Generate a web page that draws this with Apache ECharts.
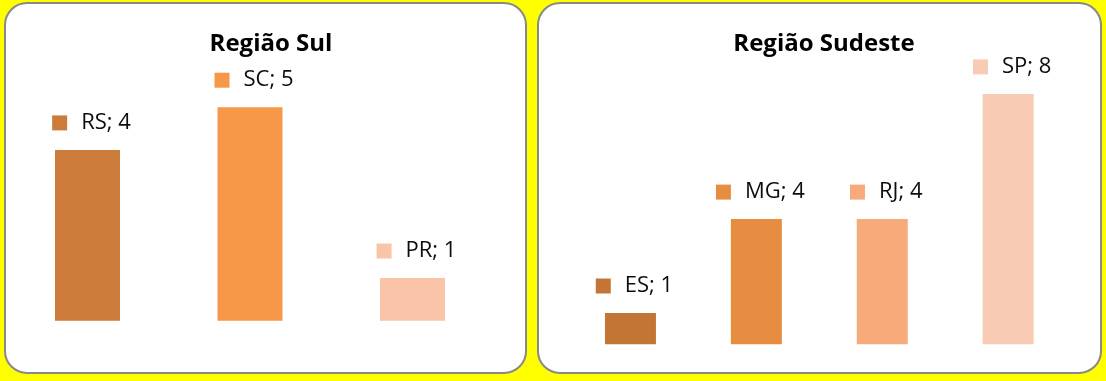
<!DOCTYPE html>
<html>
<head>
<meta charset="utf-8">
<script src="https://cdn.jsdelivr.net/npm/echarts@6/dist/echarts.min.js"></script>
<style>
html,body{margin:0;padding:0;background:#FFFF00;}
#chart{width:1106px;height:381px;}
</style>
</head>
<body>
<div id="chart"></div>
<script>
const sulTitle = 'Região Sul';
const sulCategories = ['RS', 'SC', 'PR'];
const sulValues = [4, 5, 1];
const sulColors = ['#CD7B3A', '#F79748', '#F9C4A8'];

const sudesteTitle = 'Região Sudeste';
const sudesteCategories = ['ES', 'MG', 'RJ', 'SP'];
const sudesteValues = [1, 4, 4, 8];
const sudesteColors = ['#C37536', '#E78D42', '#F7AB7B', '#F7CBB4'];

const FONT = '"Open Sans", "Noto Sans", sans-serif';

function buildData(cats, vals, cols) {
  return vals.map((v, i) => ({
    value: v,
    itemStyle: { color: cols[i] },
    label: {
      rich: {
        s: { width: 15, height: 15, backgroundColor: cols[i] },
        g: { width: 14 },
        t: { fontSize: 22, fontFamily: FONT, color: '#0d0d0d', lineHeight: 24 }
      },
      formatter: '{s|}{g|}{t|' + cats[i] + '; ' + v + '}'
    }
  }));
}

const chart = echarts.init(document.getElementById('chart'), null, { renderer: 'canvas' });

const option = {
  backgroundColor: '#FFFF00',
  animation: false,
  graphic: [
    { type: 'rect', z: 0, shape: { x: 5, y: 3, width: 521, height: 370, r: 22 },
      style: { fill: '#ffffff', stroke: '#898989', lineWidth: 2 } },
    { type: 'rect', z: 0, shape: { x: 538, y: 3, width: 563, height: 370, r: 22 },
      style: { fill: '#ffffff', stroke: '#898989', lineWidth: 2 } }
  ],
  title: [
    { text: sulTitle, left: 266, top: 27, textAlign: 'center',
      textStyle: { fontFamily: FONT, fontWeight: 'bold', fontSize: 24, color: '#000' } },
    { text: sudesteTitle, left: 819, top: 27, textAlign: 'center',
      textStyle: { fontFamily: FONT, fontWeight: 'bold', fontSize: 24, color: '#000' } }
  ],
  grid: [
    { left: 6.25, width: 487.5, top: 64.5, height: 256.2 },
    { left: 567.5, width: 503.6, top: 31.3, height: 313 }
  ],
  xAxis: [
    { type: 'category', gridIndex: 0, data: sulCategories, show: false },
    { type: 'category', gridIndex: 1, data: sudesteCategories, show: false }
  ],
  yAxis: [
    { type: 'value', gridIndex: 0, min: 0, max: 6, show: false },
    { type: 'value', gridIndex: 1, min: 0, max: 10, show: false }
  ],
  series: [
    { type: 'bar', xAxisIndex: 0, yAxisIndex: 0, barWidth: 65, z: 2,
      data: buildData(sulCategories, sulValues, sulColors),
      label: { show: true, position: 'top', distance: 15, offset: [4, 0] } },
    { type: 'bar', xAxisIndex: 1, yAxisIndex: 1, barWidth: 51, z: 2,
      data: buildData(sudesteCategories, sudesteValues, sudesteColors),
      label: { show: true, position: 'top', distance: 15, offset: [4, 0] } }
  ]
};
chart.setOption(option);
</script>
</body>
</html>
